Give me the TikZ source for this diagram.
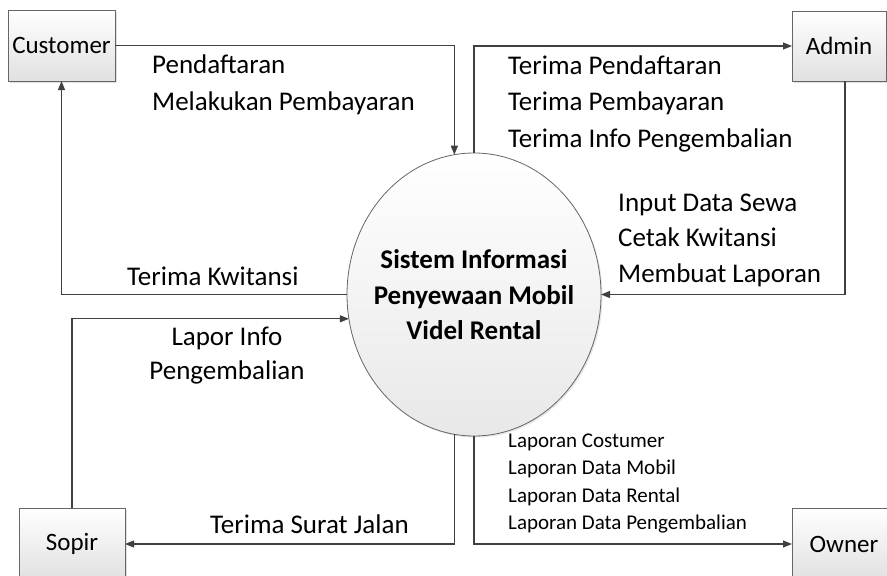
\documentclass[tikz,border=0pt]{standalone}
\usepackage{fontspec}
\setmainfont{Carlito}
\usetikzlibrary{shapes.geometric,arrows.meta,shadows,calc}
\begin{document}
\begin{tikzpicture}[x=1pt,y=-1pt,
  line/.style={draw=black!75, line width=1.1pt},
  arr/.style={line, -{Triangle[length=9pt,width=7pt]}},
  ent/.style={draw=black!60, line width=0.8pt, top color=white, bottom color=black!12,
    drop shadow={shadow xshift=1.5pt,shadow yshift=-1.5pt,opacity=0.25},
    inner sep=0pt, outer sep=0pt, font=\fontsize{25}{30}\selectfont},
  lbl/.style={anchor=base west, inner sep=0pt, font=\fontsize{27}{36}\selectfont},
  slbl/.style={anchor=base west, inner sep=0pt, font=\fontsize{21}{28}\selectfont}]
\useasboundingbox (0,0) rectangle (887,576);

% entities
\node[ent, minimum width=107pt, minimum height=71pt] (cust) at (61.5,45.5) {Customer};
\node[ent, minimum width=94pt, minimum height=70pt] (admin) at (839,46) {Admin};
\node[ent, minimum width=106pt, minimum height=72pt] (sopir) at (72,544) {Sopir};
\node[ent, minimum width=104pt, minimum height=72pt] (owner) at (844,544) {Owner};

% process
\node[ellipse, draw=black!60, line width=0.8pt, minimum width=254pt, minimum height=283pt,
  inner sep=0pt, outer sep=0pt, top color=white, bottom color=black!9,
  drop shadow={shadow xshift=1.5pt,shadow yshift=-1.5pt,opacity=0.2}] (sys) at (474,294.5) {};
\node[align=center, inner sep=0pt, font=\fontsize{27}{35.5}\selectfont\bfseries] (systxt) at (474,295) {Sistem Informasi\\Penyewaan Mobil\\Videl Rental};

% flows
\draw[arr] (cust.east) -| (sys.98);
\draw[arr] (sys.north) |- (admin.west);
\coordinate (adm1) at ($(admin.south)+(6,0)$);
\draw[arr] (adm1) |- (sys.east);
\draw[arr] (sys.west) -| (cust.south);
\draw[arr] (sopir.north) |- (sys.191);
\draw[arr] (sys.262) |- (sopir.east);
\draw[arr] (sys.south) |- (owner.west);

% labels
\node[lbl] (l1) at (152,73) {Pendaftaran};
\node[lbl] (l2) at (152,110) {Melakukan Pembayaran};
\node[lbl] (l3) at (508,74) {Terima Pendaftaran};
\node[lbl] (l4) at (508,110) {Terima Pembayaran};
\node[lbl] (l5) at (508,147) {Terima Info Pengembalian};
\node[lbl] (l6) at (618,211) {Input Data Sewa};
\node[lbl] (l7) at (618,246) {Cetak Kwitansi};
\node[lbl] (l8) at (618,282) {Membuat Laporan};
\node[lbl] (l9) at (127,285) {Terima Kwitansi};
\node[lbl, anchor=base] (l10) at (227,345) {Lapor Info};
\node[lbl, anchor=base] (l11) at (227,379) {Pengembalian};
\node[lbl] (l12) at (210,533) {Terima Surat Jalan};
\node[slbl] (s1) at (508,447) {Laporan Costumer};
\node[slbl] (s2) at (508,474.5) {Laporan Data Mobil};
\node[slbl] (s3) at (508,502) {Laporan Data Rental};
\node[slbl] (s4) at (508,529) {Laporan Data Pengembalian};
\end{tikzpicture}
\end{document}
